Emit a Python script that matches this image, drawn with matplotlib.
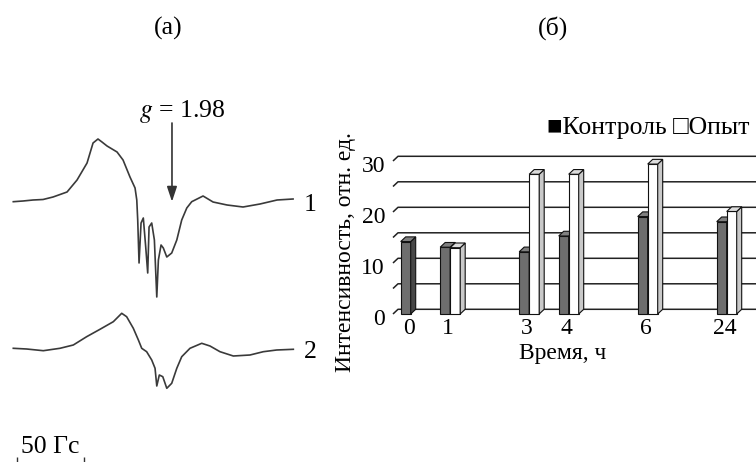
import matplotlib
matplotlib.use("Agg")
import matplotlib.pyplot as plt
from matplotlib.patches import Polygon

plt.rcParams['font.family'] = ['Liberation Serif', 'DejaVu Serif']
plt.rcParams['mathtext.fontset'] = 'stix'

# ---------------- data ----------------
# EPR spectrum 1 (field, G ; signal, a.u.)
spec1_field = [0.0, 7.3, 14.8, 22.3, 29.8, 40.3, 47.8, 55.3, 59.8, 63.5, 66.5, 70.3,
               77.8, 82.3, 87.5, 91.3, 92.6, 93.3, 94.3, 95.8, 97.5, 99.3, 100.8,
               101.8, 103.8, 105.8, 107.6, 108.8, 110.8, 112.5, 115.1, 118.8, 122.6,
               126.3, 130.1, 133.8, 142.3, 149.8, 160.3, 172.3, 185.0, 197.8, 209.8]
spec1_signal = [-1.0, -0.3, 0.7, 1.2, 3.7, 8.7, 20.7, 37.7, 57.7, 61.7, 58.7, 54.7,
                48.7, 40.7, 23.7, 12.7, 0.7, -19.3, -62.3, -22.3, -17.3, -46.3, -72.3,
                -26.3, -22.3, -39.3, -96.3, -59.3, -44.3, -47.3, -56.3, -52.3, -39.3,
                -19.3, -7.3, -1.0, 4.7, -1.3, -4.3, -6.3, -3.3, 0.7, 1.7]
# EPR spectrum 2
spec2_field = [0.0, 10.0, 22.5, 35.0, 45.0, 55.0, 65.0, 75.0, 81.3, 85.0, 90.0, 93.8,
               96.3, 100.0, 103.8, 106.3, 107.6, 109.5, 112.1, 115.1, 118.8, 122.6,
               126.3, 132.5, 141.3, 147.5, 155.0, 165.0, 177.5, 187.5, 197.5, 210.0]
spec2_signal = [0.0, -0.7, -2.4, 0.0, 3.3, 11.6, 19.0, 26.6, 35.0, 31.6, 20.0, 8.3,
                0.0, -3.4, -11.7, -20.0, -37.7, -26.7, -28.4, -40.0, -35.0, -20.0,
                -8.4, 0.0, 5.0, 2.3, -3.4, -7.7, -6.7, -3.4, -1.7, -1.0]

# Bar chart
time_labels = ["0", "1", "3", "4", "6", "24"]
control = [14.2, 13.1, 12.2, 15.3, 19.1, 18.1]
experiment = [0, 13.0, 27.4, 27.4, 29.4, 20.1]
y_ticks = [0, 10, 20, 30]
grid_levels = [0, 5, 10, 15, 20, 25, 30]

# ---------------- layout ----------------
W, H = 756, 462
FS = 17
FL = 18.5
fig = plt.figure(figsize=(W / 100, H / 100), dpi=100)


def fp(x, y):
    return x / W, 1 - y / H


# ---- panel (a): spectra ----
axa = fig.add_axes([0, 0, 330 / W, 1])
axa.set_xlim(-9.975, 237.5)
axa.set_ylim(-261.3, 200.7)
axa.axis('off')
off2 = -147.6
lc = '#3a3a3a'
axa.plot(spec1_field, spec1_signal, color=lc, lw=1.2)
axa.plot(spec2_field, [s + off2 for s in spec2_signal], color=lc, lw=1.2)
axa.annotate('', xy=(119.0, -1.0), xytext=(119.0, 77.7),
             arrowprops=dict(arrowstyle='-|>,head_length=0.9,head_width=0.3',
                             color='#333333', lw=1.2, shrinkA=0, shrinkB=0))
axa.vlines([3, 53], -261, -256, color='#333333', lw=1.0)

fig.text(*fp(182.5, 111.7), r"$g$ = 1.98", fontsize=FL, ha='center', va='center')
fig.text(*fp(310, 205), "1", fontsize=FL, ha='center', va='center')
fig.text(*fp(310, 352), "2", fontsize=FL, ha='center', va='center')
fig.text(*fp(50, 447), "50 Гс", fontsize=FL, ha='center', va='center')
fig.text(*fp(168, 28), "(а)", fontsize=FL, ha='center', va='center')
fig.text(*fp(553, 28), "(б)", fontsize=FL, ha='center', va='center')

# ---- panel (б): 3D-like bars ----
px_slot = 39.5
px_unit = 5.1
cx0 = 410.7
x0 = (393 - cx0) / px_slot
x1 = (W - cx0) / px_slot
axb = fig.add_axes([393 / W, 1 - 314 / H, (W - 393) / W, (314 - 140) / H])
axb.set_xlim(x0, x1)
axb.set_ylim(0, (314 - 140) / px_unit)
axb.axis('off')

dx = 5.0 / px_slot
dy = 4.7 / px_unit
bw = 10.0 / px_slot
slots = [0, 1, 3, 4, 6, 8]

for v in grid_levels:
    axb.plot([x0, x0 + dx, x1], [v, v + dy, v + dy], color='#222222', lw=1.1,
             clip_on=False, zorder=1, solid_capstyle='butt')


def bar3d(ax, xl, h, cf, cs, ct, z):
    ec = '#111111'
    lw = 0.8
    ax.add_patch(Polygon([(xl, 0), (xl + bw, 0), (xl + bw, h), (xl, h)], closed=True,
                         facecolor=cf, edgecolor=ec, lw=lw, zorder=z, clip_on=False))
    ax.add_patch(Polygon([(xl + bw, 0), (xl + bw + dx, dy), (xl + bw + dx, h + dy),
                          (xl + bw, h)], closed=True,
                         facecolor=cs, edgecolor=ec, lw=lw, zorder=z, clip_on=False))
    ax.add_patch(Polygon([(xl, h), (xl + dx, h + dy), (xl + bw + dx, h + dy),
                          (xl + bw, h)], closed=True,
                         facecolor=ct, edgecolor=ec, lw=lw, zorder=z, clip_on=False))


z = 2
for s, c, e in zip(slots, control, experiment):
    bar3d(axb, s - bw, c, '#6e6e6e', '#474747', '#808080', z)
    z += 1
    if e > 0:
        bar3d(axb, s, e, '#ffffff', '#c9c9c9', '#dcdcdc', z)
    z += 1

for v in y_ticks:
    axb.text(x0 - 8 / px_slot, v - 1.0, str(v), fontsize=FS, ha='right', va='center',
             clip_on=False)
for s, lab in zip(slots, time_labels):
    axb.text(s - 0.05, -2.9, lab, fontsize=FS, ha='center', va='center', clip_on=False)

fig.text(*fp(562.5, 354), "Время, ч", fontsize=FS, ha='center', va='center')
fig.text(*fp(345, 252), "Интенсивность, отн. ед.", fontsize=FS, ha='center',
         va='center', rotation=90)
fig.text(*fp(547, 128), "■Контроль □Опыт", fontsize=FL, ha='left', va='center')

fig.savefig("out.png", dpi=100)
